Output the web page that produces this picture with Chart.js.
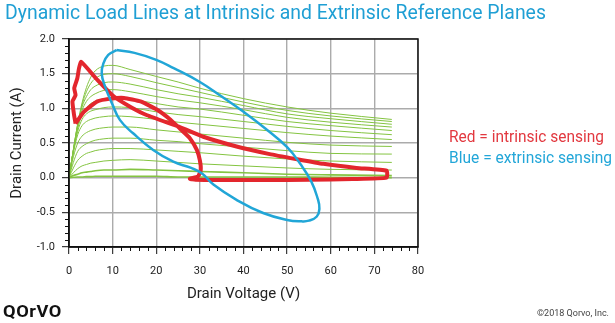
<!DOCTYPE html>
<html>
<head>
<meta charset="utf-8">
<script src="https://cdn.jsdelivr.net/npm/chart.js@4.4.0/dist/chart.umd.min.js"></script>
<style>
  html, body { margin: 0; padding: 0; background: #fff; }
  #wrap { position: relative; width: 615px; height: 323px; overflow: hidden; font-family: Roboto, "Noto Sans", sans-serif; }
  #chartBox { position: absolute; left: 0; top: 0; width: 615px; height: 323px; }
  .txt { position: absolute; white-space: nowrap; line-height: 1; transform-origin: 0 0; }
  #title { left: 5px; top: 2px; font-size: 20px; color: #1f9fd4; }
  #noteRed { left: 449px; top: 129px; font-size: 16px; color: #e2383f; }
  #noteBlue { left: 449px; top: 150px; font-size: 16px; color: #22a6d8; }
  #logo { left: 3px; top: 304px; font-size: 16px; font-weight: 700; color: #111; letter-spacing: 0.5px; }
  #copy { left: 537px; top: 309px; font-size: 9px; color: #444; }
</style>
</head>
<body>
<div id="wrap">
  <div id="chartBox"><canvas id="loadLines"></canvas></div>
  <div class="txt" id="title" data-w="541">Dynamic Load Lines at Intrinsic and Extrinsic Reference Planes</div>
  <div class="txt" id="noteRed" data-w="155">Red = intrinsic sensing</div>
  <div class="txt" id="noteBlue" data-w="163">Blue = extrinsic sensing</div>
  <div class="txt" id="logo" data-w="59">QOrVO</div>
  <div class="txt" id="copy" data-w="72">©2018 Qorvo, Inc.</div>
</div>
<script>
// ===== DATA =====
// drain voltage samples shared by the IV curves
const ivVds = [0, 1, 2, 3, 4, 5, 6, 8, 10, 14, 20, 25, 30, 40, 50, 60, 74];

// drain current of each IV curve (A), top to bottom
const ivCurves = [
    [0, 0.40, 0.78, 1.08, 1.30, 1.45, 1.54, 1.61, 1.62, 1.56, 1.46, 1.38, 1.29, 1.14, 1.02, 0.93, 0.84],
    [0, 0.40, 0.77, 1.05, 1.24, 1.36, 1.43, 1.49, 1.50, 1.46, 1.37, 1.30, 1.23, 1.09, 0.97, 0.89, 0.81],
    [0, 0.40, 0.76, 1.02, 1.17, 1.27, 1.32, 1.37, 1.38, 1.35, 1.27, 1.21, 1.16, 1.04, 0.92, 0.85, 0.77],
    [0, 0.39, 0.74, 0.97, 1.10, 1.17, 1.21, 1.26, 1.27, 1.24, 1.17, 1.12, 1.08, 0.98, 0.87, 0.80, 0.73],
    [0, 0.39, 0.71, 0.91, 1.01, 1.07, 1.10, 1.14, 1.15, 1.13, 1.07, 1.02, 0.99, 0.90, 0.81, 0.75, 0.68],
    [0, 0.38, 0.67, 0.84, 0.92, 0.96, 0.98, 1.01, 1.02, 1.01, 0.95, 0.91, 0.88, 0.81, 0.74, 0.68, 0.62],
    [0, 0.36, 0.62, 0.75, 0.81, 0.84, 0.86, 0.88, 0.89, 0.88, 0.84, 0.80, 0.77, 0.71, 0.65, 0.60, 0.55],
    [0, 0.30, 0.50, 0.60, 0.65, 0.68, 0.70, 0.72, 0.73, 0.73, 0.69, 0.66, 0.63, 0.57, 0.51, 0.47, 0.45],
    [0, 0.22, 0.38, 0.45, 0.49, 0.52, 0.54, 0.56, 0.57, 0.57, 0.54, 0.52, 0.49, 0.44, 0.39, 0.35, 0.34],
    [0, 0.14, 0.25, 0.31, 0.35, 0.37, 0.39, 0.41, 0.42, 0.42, 0.40, 0.38, 0.36, 0.31, 0.27, 0.24, 0.22],
    [0, 0.07, 0.13, 0.17, 0.19, 0.21, 0.22, 0.24, 0.25, 0.26, 0.24, 0.22, 0.20, 0.17, 0.14, 0.12, 0.11],
    [0, 0.03, 0.05, 0.07, 0.08, 0.09, 0.10, 0.11, 0.11, 0.12, 0.11, 0.10, 0.09, 0.07, 0.05, 0.04, 0.03],
    [0, 0.005, 0.01, 0.01, 0.015, 0.015, 0.02, 0.02, 0.02, 0.02, 0.02, 0.01, 0.01, 0.01, 0.01, 0.005, 0.0]
];

// red load line (intrinsic plane)
const redVds = [1.5, 1.1, 0.8, 1.5, 1.2, 1.9, 2.3, 2.8, 6.5, 10.3, 14.1, 17.9, 25.4, 30.8, 38.4, 46.0, 52.0, 58.3, 65.9, 72.8,
                72.8, 65.0, 55.0, 45.0, 35.0, 29.0, 27.7, 29.6, 30.2, 30.0, 29.3, 27.7, 25.4, 23.2, 20.2, 16.4, 12.6, 9.6, 6.5, 3.4, 1.5];
const redId = [0.78, 0.93, 1.10, 1.19, 1.29, 1.43, 1.58, 1.67, 1.41, 1.17, 1.02, 0.90, 0.73, 0.59, 0.45, 0.34, 0.27, 0.20, 0.14, 0.10,
               0.00, -0.02, -0.03, -0.035, -0.035, -0.03, -0.015, 0.02, 0.11, 0.25, 0.40, 0.57, 0.71, 0.84, 0.98, 1.10, 1.15, 1.14, 1.10, 0.95, 0.78];

// blue load line (extrinsic plane)
const blueVds = [10.9, 15.0, 20.0, 24.0, 30.0, 35.0, 40.0, 45.0, 50.0, 53.0, 55.5, 57.0, 57.4, 56.8, 55.0, 53.3, 50.0, 44.5, 38.4,
                 33.1, 30.5, 28.0, 23.9, 19.3, 14.7, 11.7, 10.0, 8.3, 7.5, 7.9, 9.0, 10.9];
const blueId = [1.84, 1.80, 1.70, 1.58, 1.38, 1.17, 0.95, 0.71, 0.44, 0.20, -0.05, -0.30, -0.45, -0.56, -0.62, -0.63, -0.61, -0.51, -0.32,
                -0.10, 0.06, 0.14, 0.23, 0.40, 0.64, 0.83, 1.05, 1.31, 1.50, 1.65, 1.77, 1.84];

const xTickLabels = [0, 10, 20, 30, 40, 50, 60, 70, 80];
const yTickLabels = [-1.0, -0.5, 0.0, 0.5, 1.0, 1.5, 2.0];

// ===== HELPERS =====
function toPoints(xs, ys) {
    return xs.map((v, i) => ({ x: v, y: ys[i] }));
}

// frame on all four sides plus the short minor ticks
const frameAndMinorTicks = {
    id: 'frameAndMinorTicks',
    afterDraw(chart) {
        const { ctx, chartArea: a, scales: { x, y } } = chart;
        ctx.save();
        ctx.strokeStyle = '#111';
        ctx.lineWidth = 1.5;
        ctx.strokeRect(a.left, a.top, a.right - a.left, a.bottom - a.top);
        ctx.lineWidth = 1;
        ctx.beginPath();
        for (let v = 0; v <= 80; v += 2) {
            if (v % 10 === 0) continue;
            const px = Math.round(x.getPixelForValue(v)) + 0.5;
            ctx.moveTo(px, a.bottom);
            ctx.lineTo(px, a.bottom + 4);
        }
        for (let k = -10; k <= 20; k++) {
            if (k % 5 === 0) continue;
            const py = Math.round(y.getPixelForValue(k / 10)) + 0.5;
            ctx.moveTo(a.left, py);
            ctx.lineTo(a.left - 4, py);
        }
        ctx.stroke();
        ctx.restore();
    }
};

// ===== CHART =====
const datasets = [];

datasets.push({
    label: 'Extrinsic',
    data: toPoints(blueVds, blueId),
    borderColor: '#21a6d7',
    borderWidth: 2.5,
    tension: 0.45,
    pointRadius: 0,
    showLine: true,
    order: 0
});

datasets.push({
    label: 'Intrinsic',
    data: toPoints(redVds, redId),
    borderColor: '#e3262d',
    borderWidth: 4,
    tension: 0.15,
    pointRadius: 0,
    showLine: true,
    borderJoinStyle: 'round',
    order: 1
});

ivCurves.forEach((curve, i) => {
    datasets.push({
        label: 'IV ' + (i + 1),
        data: toPoints(ivVds, curve),
        borderColor: '#84c441',
        borderWidth: i >= ivCurves.length - 2 ? 1.6 : 1,
        cubicInterpolationMode: 'monotone',
        pointRadius: 0,
        showLine: true,
        order: 2
    });
});

new Chart(document.getElementById('loadLines'), {
    type: 'scatter',
    data: { datasets },
    options: {
        responsive: true,
        maintainAspectRatio: false,
        animation: false,
        layout: { padding: { left: 0, top: 39, right: 197, bottom: 0 } },
        plugins: {
            legend: { display: false },
            tooltip: { enabled: false }
        },
        scales: {
            x: {
                type: 'linear',
                min: 0,
                max: 80,
                afterFit: (scale) => { scale.height = 76; },
                afterBuildTicks: (scale) => { scale.ticks = xTickLabels.map(v => ({ value: v })); },
                ticks: {
                    color: '#222',
                    padding: 11,
                    font: { family: 'Roboto', size: 11 },
                    maxRotation: 0
                },
                grid: { color: '#ababab', lineWidth: 1.4, tickColor: '#111', tickLength: 7, tickWidth: 1 },
                border: { color: '#111', width: 1.5 },
                title: {
                    display: true,
                    text: 'Drain Voltage (V)',
                    color: '#222',
                    font: { family: 'Roboto', size: 15 },
                    padding: { top: 0, bottom: 20 }
                }
            },
            y: {
                type: 'linear',
                min: -1.0,
                max: 2.0,
                afterFit: (scale) => { scale.width = 69; },
                afterBuildTicks: (scale) => { scale.ticks = yTickLabels.map(v => ({ value: v })); },
                ticks: {
                    color: '#222',
                    padding: 7,
                    font: { family: 'Roboto', size: 11 },
                    callback: (v) => Number(v).toFixed(1)
                },
                grid: { color: '#ababab', lineWidth: 1.4, tickColor: '#111', tickLength: 7, tickWidth: 1 },
                border: { color: '#111', width: 1.5 },
                title: {
                    display: true,
                    text: 'Drain Current (A)',
                    color: '#222',
                    font: { family: 'Roboto', size: 15 },
                    padding: { top: 8, bottom: 0 }
                }
            }
        }
    },
    plugins: [frameAndMinorTicks]
});

// squeeze the free text to the widths in the reference
document.querySelectorAll('.txt').forEach(el => {
    const target = Number(el.dataset.w);
    const w = el.getBoundingClientRect().width;
    if (w > 0) el.style.transform = 'scaleX(' + (target / w).toFixed(3) + ')';
});
</script>
</body>
</html>
